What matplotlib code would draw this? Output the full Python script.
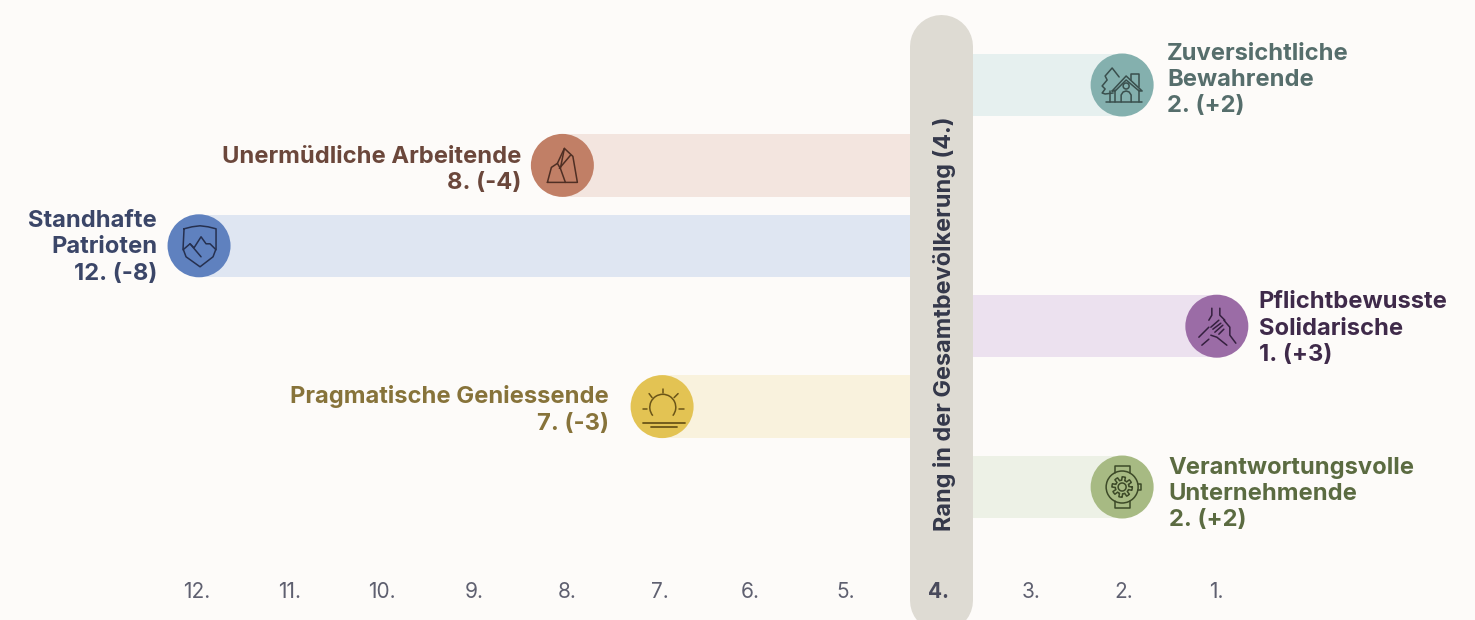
import matplotlib
matplotlib.use("Agg")
import numpy as np
import matplotlib.pyplot as plt
from matplotlib.patches import Arc, PathPatch
from matplotlib.path import Path
from matplotlib.lines import Line2D
from matplotlib.transforms import Affine2D

plt.rcParams['font.family'] = ['Inter', 'DejaVu Sans']

BASE_RANK = 4
names = ["Zuversichtliche\nBewahrende", "Unermüdliche Arbeitende", "Standhafte\nPatrioten",
         "Pflichtbewusste\nSolidarische", "Pragmatische Geniessende", "Verantwortungsvolle\nUnternehmende"]
ranks = [2, 8, 12, 1, 7, 2]
changes = ["+2", "-4", "-8", "+3", "-3", "+2"]
circle_colors = ["#84b0ae", "#c17f66", "#5f81bf", "#9b6ca6", "#e3c353", "#a7ba83"]
bar_colors = ["#e6f0ef", "#f3e5df", "#dfe6f2", "#ece1ef", "#f9f2dd", "#edf1e6"]
text_colors = ["#566e6c", "#6b473b", "#3b4668", "#3f2a4a", "#87733a", "#5b6b41"]
icon_colors = ["#3a4f4d", "#4f2f24", "#26304f", "#35203f", "#6b5518", "#3d4a28"]
tick_ranks = [12, 11, 10, 9, 8, 7, 6, 5, 4, 3, 2, 1]
axis_title = "Rang in der Gesamtbevölkerung (4.)"
# pixel nudges of the reference layout
circle_dx = [-1.5, -5, 2.5, 0.5, 2, -1.5]
label_dx = [45, -41, -42, 42, -53, 46.5]
label_dy = [-5, 4.5, 1.5, 2.5, 3.5, 7]

W, H = 1475, 620
PX_PER_RANK = 92.7
fig = plt.figure(figsize=(W / 100, H / 100), dpi=100, facecolor="#fdfbf9")
ax = fig.add_axes([0, 0, 1, 1])
ax.set_xlim(14.12, -1.79)
ax.set_ylim(6.654, -1.057)
ax.axis("off")
px = Affine2D().scale(1, -1).translate(0, H)
rows = list(range(len(names)))
circle_x = [r - d / PX_PER_RANK for r, d in zip(ranks, circle_dx)]

ax.barh(rows, [x - BASE_RANK for x in circle_x], left=BASE_RANK, height=62.5 / 80.4,
        color=bar_colors, zorder=1)
ax.scatter(circle_x, rows, s=(63 * 0.72) ** 2, c=circle_colors, linewidths=0, zorder=3)

pill = Line2D([941, 941], [46, 600], transform=px, lw=63 * 0.72, color="#dedbd3",
              solid_capstyle="round", zorder=2)
ax.add_line(pill)
ax.text(944, 324, axis_title, transform=px, rotation=90, ha="center", va="center",
        fontsize=16.9, fontweight="bold", color="#34384a", zorder=4)

for r in tick_ranks:
    ax.annotate(f"{r}.", (r, 6.3), xytext=(-3 if r == 6 else 0, 0), textcoords="offset pixels",
                ha="center", va="center", fontsize=15,
                color="#4a4b5c" if r == BASE_RANK else "#5f6070",
                fontweight="bold" if r == BASE_RANK else "normal", zorder=5,
                annotation_clip=False)

for i, (n, r, c) in enumerate(zip(names, ranks, changes)):
    right = r < BASE_RANK
    ax.annotate(f"{n}\n{r}. ({c})", (circle_x[i], i), xytext=(label_dx[i], -label_dy[i]),
                textcoords="offset pixels",
                ha="left" if right else "right", va="center", multialignment="left" if right else "right",
                fontsize=17.1, fontweight="bold", color=text_colors[i], linespacing=1.25, zorder=5)


def local(i):
    cx, cy = ax.transData.transform((circle_x[i], rows[i]))
    return Affine2D().scale(1, -1).translate(cx, cy)


def stroke(i, verts, lw=1.1):
    codes = [Path.MOVETO] + [Path.LINETO] * (len(verts) - 1)
    ax.add_patch(PathPatch(Path(verts, codes), transform=local(i), fc="none", ec=icon_colors[i], lw=lw,
                           zorder=6, capstyle="round", joinstyle="round"))


def ring(i, x, y, d, a0=0, a1=360, lw=1.1):
    ax.add_patch(Arc((x, y), d, d, theta1=a0, theta2=a1, transform=local(i), ec=icon_colors[i],
                     lw=lw, zorder=6))


# House and tree
stroke(0, [(-16, 17), (20, 17)])
stroke(0, [(-10, 6), (4, -9), (20, 6), (17, 6), (4, -5), (-7, 6), (-10, 6)])
stroke(0, [(-7, 5), (-7, 17)])
stroke(0, [(17, 5), (17, 17)])
stroke(0, [(9, -5), (9, -11), (17, -11), (17, 2)])
stroke(0, [(-1, 17), (-1, 10), (1, 7), (4, 6), (7, 7), (9, 10), (9, 17)])
ring(0, 4, 1, 6)
stroke(0, [(-3, -8), (-10, -17), (-17, -9), (-15, -5), (-20, 1), (-17, 4), (-20, 8), (-17, 9), (-9, 8)])
stroke(0, [(-12, 6), (-12, 17)])
# Rock
stroke(1, [(-15, 17), (15, 17), (10.5, -9), (2, -17), (-5, -2), (-11, 2), (-15, 17)])
stroke(1, [(2, -17), (-2, 3), (3, 17)])
stroke(1, [(8, -10), (-3, 3)])
stroke(1, [(-5, -2), (-2, 3)])
# Shield with peaks
stroke(2, [(-15, -17), (-7, -19), (1, -20), (9, -19), (17, -17), (17, 3), (14, 11), (1, 21), (-13, 11), (-16, 3), (-15, -17)])
stroke(2, [(-16, 4), (-9, -2), (-5, 2), (2, -9), (7, -2), (11, -2), (17, 4)])
stroke(2, [(-9, -2), (2, 11)])
# Hands
stroke(3, [(-5, -18), (-5, -11), (-8, -6)])
stroke(3, [(3, -18), (3, -11), (8, -6)])
stroke(3, [(7, -6), (13, 1), (13, 9), (19, 17)])
stroke(3, [(-6, 1), (2, -6)])
stroke(3, [(-4, 3), (4, -3)])
stroke(3, [(-2, 6), (6, -1)])
stroke(3, [(2, 8), (7, 3)])
stroke(3, [(-6, 9), (0, 11), (10, 19)])
stroke(3, [(-8, 1), (-18, 11)])
stroke(3, [(-15, 19), (-8, 13)])
# Sun
ring(4, 0.7, 0.7, 26, a0=140, a1=400)
stroke(4, [(-19, 16), (23, 16)], lw=1.3)
stroke(4, [(-11, 20), (15, 20)], lw=1.3)
stroke(4, [(1, -18), (1, -14)])
stroke(4, [(-13, -13), (-10, -9)])
stroke(4, [(16, -13), (12, -9)])
stroke(4, [(-19, 2), (-15, 2)])
stroke(4, [(17, 2), (22, 2)])
# Watch
ring(5, 0, 0, 32)
ring(5, 0, 0, 8)
stroke(5, [(-7, -14), (-7, -21), (8, -21), (8, -14)])
stroke(5, [(-7, 14), (-7, 21), (8, 21), (8, 14)])
stroke(5, [(16, -3), (19, -3), (19, 3), (16, 3)])
a = np.linspace(0, 2 * np.pi, 97)
g = 8.5 + 1.7 * np.sign(np.sin(8 * a + 0.2))
stroke(5, list(zip(g * np.cos(a), g * np.sin(a))))

fig.savefig("out.png", dpi=100, facecolor=fig.get_facecolor())
